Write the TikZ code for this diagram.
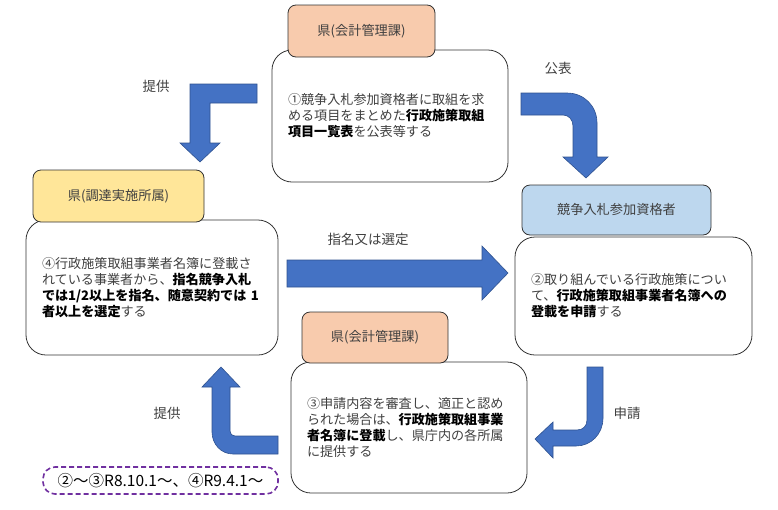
\documentclass[tikz,border=0pt]{standalone}
\usepackage{fontspec}
\setmainfont{Noto Sans CJK JP}
\usepackage{tikz}
\definecolor{txtgray}{HTML}{404040}
\definecolor{kenorange}{HTML}{F8CBAD}
\definecolor{kenyellow}{HTML}{FFE699}
\definecolor{bidblue}{HTML}{BDD7EE}
\definecolor{arrowfill}{HTML}{4472C4}
\definecolor{arrowline}{HTML}{2F528F}
\definecolor{datepurple}{HTML}{7030A0}
\tikzset{
	mainbox/.style={draw=black!80, fill=white, rounded corners=20pt, line width=0.8pt, inner xsep=16pt, align=left, text=txtgray, font=\fontsize{13.1}{16}\selectfont},
	headbox/.style={draw=black!80, rounded corners=8pt, line width=0.8pt, text=txtgray, font=\fontsize{13.2}{15}\selectfont},
	blockarrow/.style={fill=arrowfill, draw=arrowline, line width=0.6pt},
	flowlabel/.style={text=txtgray, font=\fontsize{13.5}{15}\selectfont}
}
\newcommand{\bx}[1]{{\bfseries\color{black}#1}}
\begin{document}
\begin{tikzpicture}[x=1pt, y=-1pt]
			%%%%% START %%%%%
			\useasboundingbox (0, 0) rectangle (778, 509);
			
			% (1) publish
			\node[mainbox, minimum width=236pt, minimum height=132pt, text width=204pt] (kohyo) at (390, 116)
				{①競争入札参加資格者に取組を求\\める項目をまとめた\bx{行政施策取組}\\\bx{項目一覧表}を公表等する};
			\node[headbox, fill=kenorange, minimum width=147pt, minimum height=52pt] (kaikeiA) at (361.5, 31) {県(会計管理課)};
			
			% (2) apply
			\node[mainbox, minimum width=237pt, minimum height=118pt, text width=205pt] (shinsei) at (633.5, 296)
				{②取り組んでいる行政施策につい\\て、\bx{行政施策取組事業者名簿への}\\\bx{登載を申請}する};
			\node[headbox, fill=bidblue, minimum width=189pt, minimum height=50pt] (shikakusha) at (616.5, 210) {競争入札参加資格者};
			
			% (3) register
			\node[mainbox, minimum width=236pt, minimum height=131pt, text width=204pt] (toroku) at (409, 427.5)
				{③申請内容を審査し、適正と認め\\られた場合は、\bx{行政施策取組事業}\\\bx{者名簿に登載}し、県庁内の各所属\\に提供する};
			\node[headbox, fill=kenorange, minimum width=146pt, minimum height=51pt] (kaikeiB) at (375, 337.5) {県(会計管理課)};
			
			% (4) select
			\node[mainbox, minimum width=252pt, minimum height=135pt, text width=220pt] (shimei) at (152, 287.5)
				{④行政施策取組事業者名簿に登載さ\\れている事業者から、\bx{指名競争入札}\\\bx{では1/2以上を指名、随意契約では 1}\\\bx{者以上を選定}する};
			\node[headbox, fill=kenyellow, minimum width=171pt, minimum height=52pt] (chotatsu) at (118.5, 196) {県(調達実施所属)};
			
			% block arrows
			\draw[blockarrow] (521, 93) -- (567, 93) .. controls (584, 93) and (597, 106) .. (597, 123) -- (597, 157) -- (608, 157)
				-- (586, 178) -- (563, 157) -- (573, 157) -- (573, 126) .. controls (573, 120) and (569, 115) .. (563, 115) -- (521, 115) -- cycle;
			\draw[blockarrow] (287, 260) -- (482, 260) -- (482, 246) -- (508, 273) -- (482, 300) -- (482, 287) -- (287, 287) -- cycle;
			\draw[blockarrow] (603, 367) -- (603, 418) .. controls (603, 434) and (591, 446) .. (576, 446) -- (553, 446) -- (553, 458)
				-- (535, 439) -- (553, 422) -- (553, 430) -- (577, 430) .. controls (583, 430) and (587, 426) .. (587, 420) -- (587, 367) -- cycle;
			\draw[blockarrow] (278, 436) -- (235, 436) .. controls (232, 436) and (230, 434) .. (230, 431) -- (230, 387) -- (240, 387)
				-- (221, 367) -- (202, 387) -- (212, 387) -- (212, 432) .. controls (212, 444) and (221, 454) .. (233, 454) -- (278, 454) -- cycle;
			\draw[blockarrow] (257, 84) -- (190, 84) -- (190, 143) -- (180, 143) -- (200, 162) -- (220, 143) -- (210, 143) -- (210, 103) -- (257, 103) -- cycle;
			
			% arrow labels
			\node[flowlabel] (lblkohyo) at (558, 68) {公表};
			\node[flowlabel] (lblshimei) at (368, 239) {指名又は選定};
			\node[flowlabel] (lblshinsei) at (627, 413) {申請};
			\node[flowlabel] (lblteikyoA) at (167, 413) {提供};
			\node[flowlabel] (lblteikyoB) at (156, 86) {提供};
			
			% schedule note
			\node[draw=datepurple, dashed, dash pattern=on 5pt off 3pt, line width=1.6pt, rounded corners=12pt, minimum width=235pt, minimum height=27pt, inner xsep=2pt, font=\fontsize{15.5}{17}\selectfont] (nittei) at (160.5, 480.5) {②～③R8.10.1～、④R9.4.1～};
			%%%%% END %%%%%
		\end{tikzpicture}
\end{document}
